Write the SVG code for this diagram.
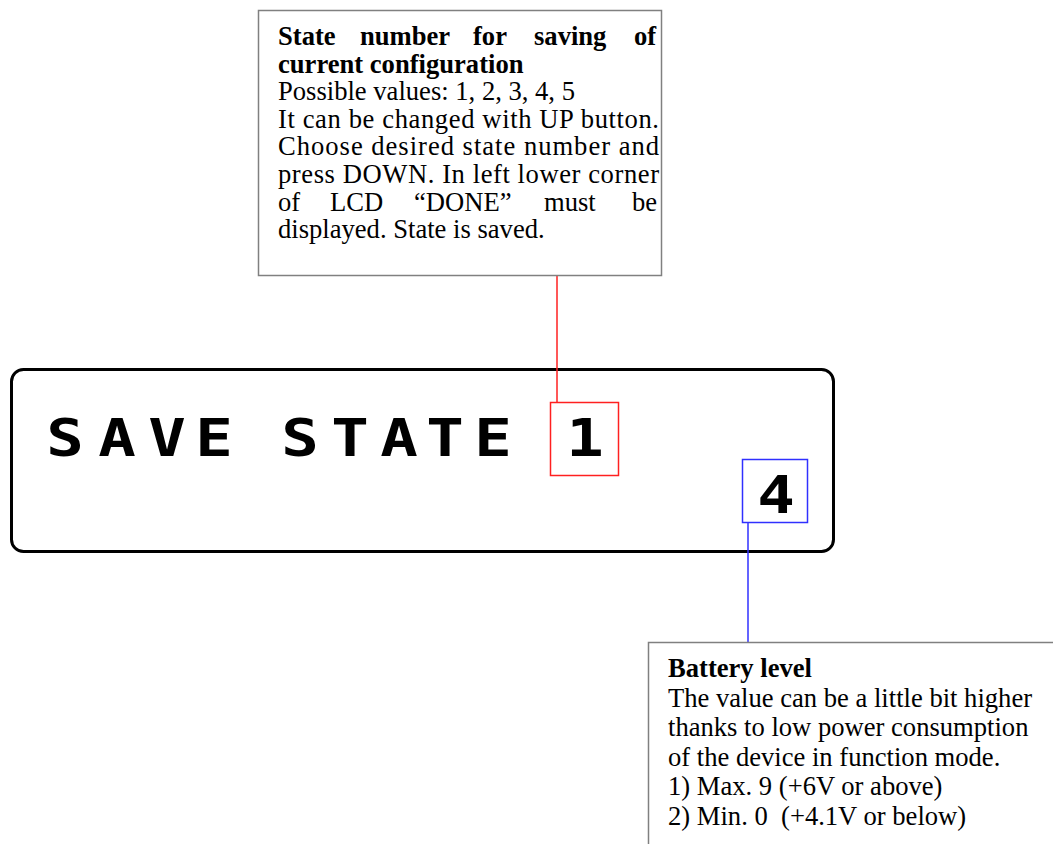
<svg xmlns="http://www.w3.org/2000/svg" width="1053" height="844" viewBox="0 0 1053 844">
  <style>
    .note { fill: #ffffff; stroke: #808080; stroke-width: 1.5; }
    .serif { font-family: "Liberation Serif", "Times New Roman", serif; font-size: 26.6px; fill: #000000; }
    .bold { font-weight: bold; }
    .lcd { fill: #ffffff; stroke: #000000; stroke-width: 3; }
    .lcdtext { font-family: "DejaVu Sans Mono", "Liberation Mono", monospace; font-weight: bold; font-size: 52px; fill: #000000; text-anchor: middle; }
    .red { fill: none; stroke: #ff2020; stroke-width: 1.5; }
    .blue { fill: none; stroke: #3030ff; stroke-width: 1.5; }
  </style>
  <rect width="1053" height="844" fill="#ffffff"/>

  <!-- LCD display; characters widened to look like a dot-matrix font -->
  <g id="lcd">
    <rect class="lcd" x="11.5" y="369.5" width="822" height="182" rx="12" ry="12"/>
    <text class="lcdtext" transform="scale(1.2 1)" x="54.2 97.5 139.2 178.3 214.2 250 291.7 332.5 370.8 410.8 450 487.5" y="456">SAVE STATE 1</text>
    <text class="lcdtext" transform="scale(1.2 1)" x="646.7" y="513">4</text>
  </g>

  <!-- highlighted digits -->
  <g id="state-digit">
    <rect class="red" x="550.5" y="402.5" width="68" height="73"/>
  </g>
  <g id="battery-digit">
    <rect class="blue" x="742.5" y="459.5" width="65" height="63"/>
  </g>

  <!-- leader lines -->
  <g id="connectors">
    <line class="red" x1="557" y1="276" x2="557" y2="402"/>
    <line class="blue" x1="748" y1="523" x2="748" y2="642"/>
  </g>

  <!-- state number note (justified paragraph) -->
  <g id="state-note">
    <rect class="note" x="258.5" y="10.5" width="403" height="265"/>
    <text class="serif bold" y="45"><tspan x="278">State</tspan><tspan x="360">number</tspan><tspan x="473">for</tspan><tspan x="534">saving</tspan><tspan x="634">of</tspan></text>
    <text class="serif bold" x="278" y="72.6">current configuration</text>
    <text class="serif" x="278" y="100.2">Possible values: 1, 2, 3, 4, 5</text>
    <text class="serif" x="278" y="127.8" textLength="381" lengthAdjust="spacing">It can be changed with UP button.</text>
    <text class="serif" x="278" y="155.4" textLength="381" lengthAdjust="spacing">Choose desired state number and</text>
    <text class="serif" x="278" y="183" textLength="381" lengthAdjust="spacing">press DOWN. In left lower corner</text>
    <text class="serif" y="210.6"><tspan x="278">of</tspan><tspan x="330">LCD</tspan><tspan x="414">“DONE”</tspan><tspan x="544">must</tspan><tspan x="632">be</tspan></text>
    <text class="serif" x="278" y="238.2">displayed. State is saved.</text>
  </g>

  <!-- battery level note -->
  <g id="battery-note">
    <rect class="note" x="648.5" y="642.5" width="420" height="220"/>
    <text class="serif bold" x="668" y="677">Battery level</text>
    <text class="serif" x="668" y="706.5">The value can be a little bit higher</text>
    <text class="serif" x="668" y="736">thanks to low power consumption</text>
    <text class="serif" x="668" y="765.5">of the device in function mode.</text>
    <text class="serif" x="668" y="795">1) Max. 9 (+6V or above)</text>
    <text class="serif" x="668" y="824.5" xml:space="preserve">2) Min. 0  (+4.1V or below)</text>
  </g>
</svg>
